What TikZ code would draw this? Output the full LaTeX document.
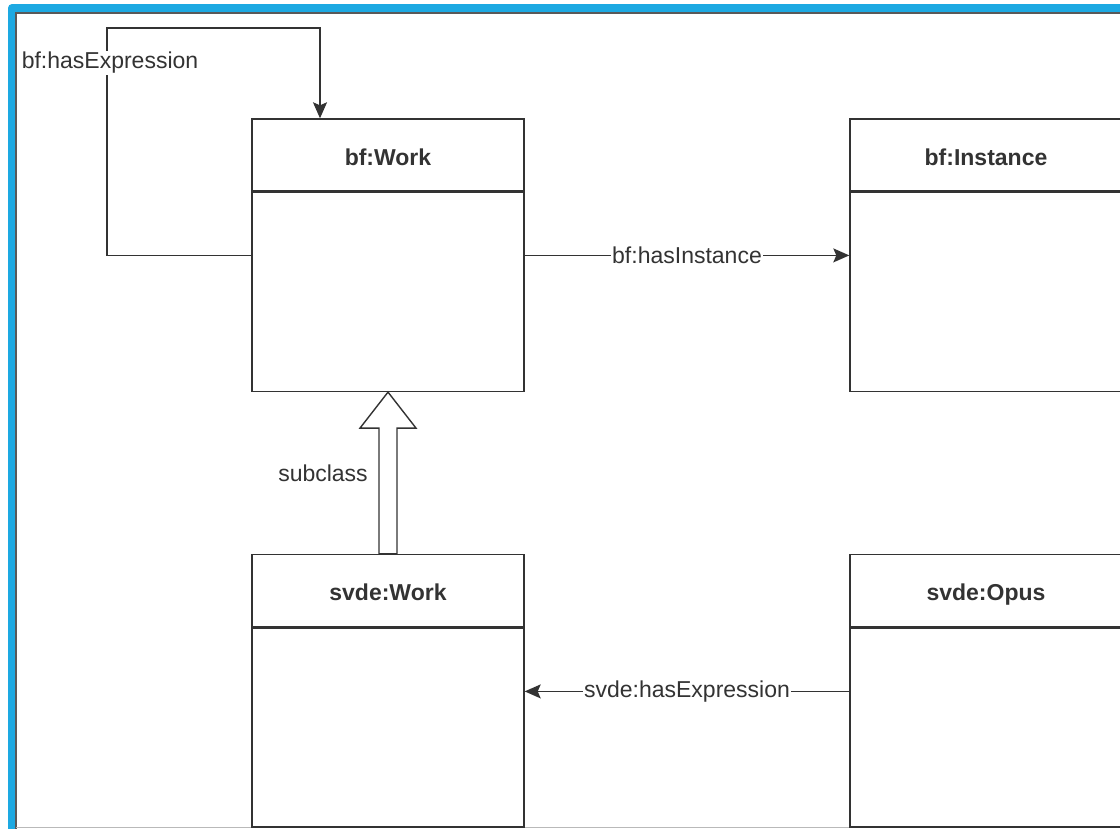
\documentclass[tikz,border=0pt]{standalone}
\usepackage{fontspec}
\setmainfont{Liberation Sans}
\usepackage{xcolor}
\usetikzlibrary{arrows.meta,positioning,calc}
\definecolor{frameblue}{RGB}{29,169,226}
\definecolor{inkgray}{RGB}{51,51,51}

\begin{document}
\begin{tikzpicture}[
x=1pt,
y=-1pt,
every node/.style={font=\fontsize{23}{26}\selectfont,text=inkgray},
classhead/.style={rectangle,draw=inkgray,line width=1.4pt,fill=white,minimum width=272pt,minimum height=72pt,inner sep=0pt,text height=20.5pt,text depth=0pt,font=\fontsize{23}{26}\selectfont\bfseries},
classbody/.style={rectangle,draw=inkgray,line width=1.4pt,fill=white,minimum width=272pt,minimum height=199pt,inner sep=0pt},
arr/.style={line width=1.4pt,draw=inkgray,-{Stealth[length=16pt,width=14pt,inset=3pt]}},
hollow/.style={line width=1.4pt,draw=inkgray,fill=white},
lbl/.style={fill=white,inner sep=1pt}
]
\useasboundingbox (0,0) rectangle (1120,828);
\clip (0,0) rectangle (1120,828);
\fill[frameblue,rounded corners=4pt] (8,4) rectangle (1140,850);
\fill[white] (16,13) rectangle (1140,850);
\draw[gray!70!black,line width=1.5pt] (16,850) -- (16,13) -- (1140,13);
\draw[gray!55,line width=1pt] (16,827) -- (1140,827);

\node[classhead] (workhead) at (388,155) {bf:Work};
\node[classbody,below=0pt of workhead] (workbody) {};
\node[classhead] (insthead) at (986,155) {bf:Instance};
\node[classbody,below=0pt of insthead] (instbody) {};
\node[classhead] (svworkhead) at (388,590.5) {svde:Work};
\node[classbody,below=0pt of svworkhead] (svworkbody) {};
\node[classhead] (opushead) at (986,590.5) {svde:Opus};
\node[classbody,below=0pt of opushead] (opusbody) {};

\coordinate (loopcorner) at (107,28);
\draw[arr] ([yshift=36.5pt]workbody.west) -| (loopcorner) -| ([xshift=-68pt]workhead.north);
\node[lbl] (exprlbl) at (110,63) {bf:hasExpression};
\draw[arr] ([yshift=36.5pt]workbody.east) -- node[lbl]{bf:hasInstance} ([yshift=36.5pt]instbody.west);
\draw[arr] ([yshift=36pt]opusbody.west) -- node[lbl]{svde:hasExpression} ([yshift=36pt]svworkbody.east);
\draw[hollow] ($(svworkhead.north)+(-9,0)$) -- ($(workbody.south)+(-9,36)$) -- ($(workbody.south)+(-28,36)$) -- (workbody.south) -- ($(workbody.south)+(28,36)$) -- ($(workbody.south)+(9,36)$) -- ($(svworkhead.north)+(9,0)$) -- cycle;
\node (sublbl) at (323,473) {subclass};
\end{tikzpicture}
\end{document}
